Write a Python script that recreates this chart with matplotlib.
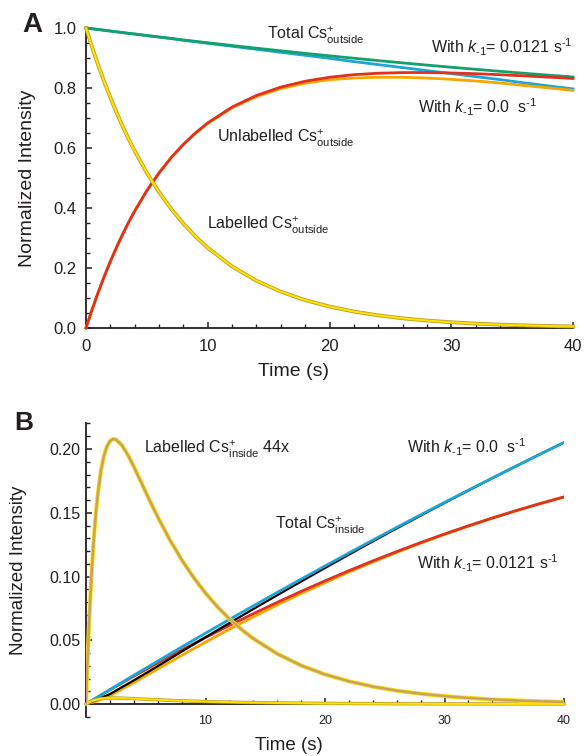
import matplotlib
matplotlib.use("Agg")
import matplotlib.pyplot as plt
from matplotlib.ticker import MultipleLocator, FixedLocator

plt.rcParams['font.family'] = ['Liberation Sans', 'DejaVu Sans']
plt.rcParams['mathtext.fontset'] = 'custom'
plt.rcParams['mathtext.rm'] = 'Liberation Sans'
plt.rcParams['mathtext.it'] = 'Liberation Sans:italic'
plt.rcParams['mathtext.bf'] = 'Liberation Sans:bold'

# ---------------- Panel A data ----------------
tA = [0, 0.5, 1, 1.5, 2, 2.5, 3, 3.5, 4, 5, 6, 7, 8, 9, 10, 12, 14, 16, 18, 20, 22, 24, 26, 28,
      30, 32, 34, 36, 38, 40]
total_out_k0121 = [1.000, 0.9974, 0.9948, 0.9923, 0.9897, 0.9872, 0.9846, 0.9821, 0.9797, 0.9747,
                   0.9698, 0.9650, 0.9602, 0.9555, 0.9508, 0.9416, 0.9327, 0.9240, 0.9155, 0.9072,
                   0.8992, 0.8913, 0.8837, 0.8764, 0.8692, 0.8623, 0.8556, 0.8491, 0.8428, 0.8368]
total_out_k0 = [1.000, 0.9975, 0.995, 0.9924, 0.990, 0.9873, 0.985, 0.9823, 0.980, 0.975,
                0.970, 0.965, 0.959, 0.954, 0.949, 0.939, 0.929, 0.919, 0.909, 0.899,
                0.888, 0.878, 0.868, 0.858, 0.848, 0.838, 0.828, 0.817, 0.807, 0.797]
unlab_out_k0121 = [0.000, 0.0613, 0.1185, 0.1719, 0.2217, 0.2683, 0.3116, 0.3521, 0.3899, 0.4578,
                   0.5169, 0.5681, 0.6124, 0.6507, 0.6837, 0.7365, 0.7751, 0.8030, 0.8226, 0.8358,
                   0.8444, 0.8492, 0.8514, 0.8516, 0.8501, 0.8477, 0.8443, 0.8404, 0.8362, 0.8317]
unlab_out_k0 = [0.000, 0.0614, 0.1187, 0.1720, 0.2220, 0.2684, 0.3120, 0.3523, 0.3902, 0.4581,
                0.5171, 0.5681, 0.6112, 0.6492, 0.6819, 0.7339, 0.7714, 0.7980, 0.8161, 0.8276,
                0.8332, 0.8359, 0.8357, 0.8332, 0.8289, 0.8234, 0.8167, 0.8083, 0.8004, 0.7919]
lab_out = [1.000, 0.9361, 0.8763, 0.8204, 0.7680, 0.7189, 0.6730, 0.6300, 0.5898, 0.5169,
           0.4529, 0.3969, 0.3478, 0.3048, 0.2671, 0.2051, 0.1576, 0.1210, 0.0929, 0.0714,
           0.0548, 0.0421, 0.0323, 0.0248, 0.0191, 0.0146, 0.0113, 0.0087, 0.0066, 0.0051]

# ---------------- Panel B data ----------------
tB = [0, 0.1, 0.25, 0.375, 0.5, 0.625, 0.75, 0.875, 1, 1.25, 1.5, 1.75, 2, 2.25, 2.5, 3, 3.5,
      4, 4.5, 5, 5.5, 6, 7, 8, 9, 10, 11, 12, 13, 14, 16, 18, 20, 22, 24, 26, 28, 30, 32, 34,
      36, 38, 40]
lab_in_44x = [0, 0.02673, 0.06149, 0.08615, 0.10738, 0.12561, 0.14119, 0.15445, 0.16566, 0.18290,
              0.19458, 0.20199, 0.20611, 0.20773, 0.20748, 0.20305, 0.19542, 0.18618, 0.17626,
              0.16619, 0.15630, 0.14676, 0.12902, 0.11322, 0.09927, 0.08703, 0.07627, 0.06684,
              0.05857, 0.05133, 0.03942, 0.03027, 0.02325, 0.01785, 0.01371, 0.01053, 0.00809,
              0.00621, 0.00477, 0.00366, 0.00281, 0.00216, 0.00166]
lab_in = [0, 0.00061, 0.00140, 0.00196, 0.00244, 0.00285, 0.00321, 0.00351, 0.00377, 0.00416,
          0.00442, 0.00459, 0.00468, 0.00472, 0.00472, 0.00461, 0.00444, 0.00423, 0.00401,
          0.00378, 0.00355, 0.00334, 0.00293, 0.00257, 0.00226, 0.00198, 0.00173, 0.00152,
          0.00133, 0.00117, 0.00090, 0.00069, 0.00053, 0.00041, 0.00031, 0.00024, 0.00018,
          0.00014, 0.00011, 0.00008, 0.00006, 0.00005, 0.00004]

tL = [0, 1, 2, 4, 6, 8, 10, 12, 14, 16, 18, 20, 22, 24, 26, 28, 30, 32, 34, 36, 38, 40]
total_in_k0 = [0, 0.00569, 0.01134, 0.02257, 0.03369, 0.04468, 0.05557, 0.06634, 0.07700, 0.08754,
               0.09797, 0.10828, 0.11848, 0.12856, 0.13853, 0.14839, 0.15813, 0.16776, 0.17727,
               0.18667, 0.19595, 0.20512]
total_in_black = [0, 0.00369, 0.00784, 0.01857, 0.02969, 0.04108, 0.05237, 0.06354, 0.07450, 0.08534,
                  0.09607, 0.10668, 0.11718, 0.12756, 0.13773, 0.14779, 0.15773, 0.16746, 0.17707,
                  0.18657, 0.19595, 0.20512]
total_in_k0121 = [0, 0.00556, 0.01105, 0.02178, 0.03221, 0.04234, 0.05215, 0.06166, 0.07085, 0.07974,
                  0.08833, 0.09660, 0.10457, 0.11222, 0.11957, 0.12662, 0.13335, 0.13978, 0.14589,
                  0.15170, 0.15721, 0.16240]
total_in_orange = [0, 0.00256, 0.00655, 0.01678, 0.02751, 0.03814, 0.04855, 0.05866, 0.06835, 0.07774,
                   0.08663, 0.09520, 0.10347, 0.11132, 0.11887, 0.12612, 0.13295, 0.13948, 0.14569,
                   0.15160, 0.15721, 0.16240]

xticksA = [0, 10, 20, 30, 40]
yticksA = [0.0, 0.2, 0.4, 0.6, 0.8, 1.0]
xticksB = [10, 20, 30, 40]
yticksB = [0.00, 0.05, 0.10, 0.15, 0.20]

GREEN = '#13A06A'
BLUE = '#1AA6D6'
RED = '#E2301E'
ORANGE = '#F7A600'
YELLOW = '#FFE200'
OLIVE = '#B79C2C'
TAN = '#C9A263'
TXT = '#231F20'

K_SUB = r'$k_{\text{-1}}$'
S_INV = r's$^{\text{-1}}$'

fig = plt.figure(figsize=(5.84, 7.56), dpi=100)

# ---------------- Panel A ----------------
axA = fig.add_axes([86/584, 1-328/756, 487/584, 300/756])
axA.plot(tA, total_out_k0, color=BLUE, lw=2.0, clip_on=False, zorder=3)
axA.plot(tA, total_out_k0121, color=GREEN, lw=2.0, clip_on=False, zorder=4)
axA.plot(tA, unlab_out_k0, color=ORANGE, lw=2.0, clip_on=False, zorder=3)
axA.plot(tA, unlab_out_k0121, color=RED, lw=2.0, clip_on=False, zorder=4)
axA.plot(tA, lab_out, color=OLIVE, lw=2.7, clip_on=False, zorder=5)
axA.plot(tA, lab_out, color=YELLOW, lw=1.5, clip_on=False, zorder=6)
axA.set_xlim(0, 40)
axA.set_ylim(0, 1.0)
axA.set_xticks(xticksA)
axA.set_yticks(yticksA)
axA.set_yticklabels([f"{v:.1f}" for v in yticksA])
axA.xaxis.set_minor_locator(MultipleLocator(2))
axA.yaxis.set_minor_locator(MultipleLocator(0.05))
for s in ['top', 'right']:
    axA.spines[s].set_visible(False)
for s in ['left', 'bottom']:
    axA.spines[s].set_linewidth(1.3)
    axA.spines[s].set_color(TXT)
axA.tick_params(which='major', direction='in', length=4.5, width=1.1, labelsize=12, colors=TXT)
axA.tick_params(which='minor', direction='in', length=3, width=1.0, colors=TXT)
axA.tick_params(axis='y', which='major', pad=7)
axA.tick_params(axis='x', which='major', pad=8)
axA.set_xlabel('Time (s)', fontsize=14, color=TXT)
axA.xaxis.set_label_coords((294-86)/487, -(371-328)/300)
axA.xaxis.label.set_va('center')
axA.set_ylabel('Normalized Intensity', fontsize=14, color=TXT)
axA.yaxis.set_label_coords((28-86)/487, 0.5)
axA.yaxis.label.set_va('center')

fs = 11.5
axA.text(14.9, 0.96, r'Total Cs$^{+}_{\mathrm{outside}}$', fontsize=fs, color=TXT)
axA.text(28.3, 0.917, 'With ' + K_SUB + '= 0.0121 ' + S_INV, fontsize=fs, color=TXT)
axA.text(27.3, 0.717, 'With ' + K_SUB + '= 0.0  ' + S_INV, fontsize=fs, color=TXT)
axA.text(10.8, 0.617, r'Unlabelled Cs$^{+}_{\mathrm{outside}}$', fontsize=fs, color=TXT)
axA.text(9.95, 0.327, r'Labelled Cs$^{+}_{\mathrm{outside}}$', fontsize=fs, color=TXT)
fig.text(22/584, 1-25/756, 'A', fontsize=20, fontweight='bold', color=TXT, va='center', ha='left')

# ---------------- Panel B ----------------
axB = fig.add_axes([86/584, 1-716.8/756, 478/584, 293.3/756])
axB.plot(tL, total_in_orange, color=ORANGE, lw=2.0, zorder=3)
axB.plot(tL, total_in_k0121, color=RED, lw=2.0, zorder=4)
axB.plot(tL, total_in_black, color='black', lw=1.6, zorder=4)
axB.plot(tL, total_in_k0, color=BLUE, lw=2.0, zorder=5)
axB.plot(tB, lab_in, color=OLIVE, lw=2.4, zorder=6, clip_on=False)
axB.plot(tB, lab_in, color=YELLOW, lw=1.4, zorder=7, clip_on=False)
axB.plot(tB, lab_in_44x, color=YELLOW, lw=3.0, zorder=6)
axB.plot(tB, lab_in_44x, color=TAN, lw=1.8, zorder=7)
axB.set_xlim(0, 40)
axB.set_ylim(-0.01, 0.22)
axB.spines['bottom'].set_position(('data', 0))
for s in ['top', 'right']:
    axB.spines[s].set_visible(False)
for s in ['left', 'bottom']:
    axB.spines[s].set_linewidth(1.3)
    axB.spines[s].set_color(TXT)
axB.xaxis.set_major_locator(FixedLocator([0] + xticksB))
axB.set_xticklabels([''] + [str(v) for v in xticksB])
axB.xaxis.set_minor_locator(MultipleLocator(2))
axB.set_yticks(yticksB)
axB.set_yticklabels([f"{v:.2f}" for v in yticksB])
axB.yaxis.set_minor_locator(MultipleLocator(0.01))
axB.tick_params(which='major', direction='in', length=4.5, width=1.1, colors=TXT)
axB.tick_params(which='minor', direction='in', length=3, width=1.0, colors=TXT)
axB.tick_params(axis='y', which='major', labelsize=11.5, pad=4)
axB.tick_params(axis='x', which='major', labelsize=9, pad=8)
axB.set_xlabel('Time (s)', fontsize=13.5, color=TXT)
axB.xaxis.set_label_coords((289-86)/478, -(745-716.8)/293.3)
axB.xaxis.label.set_va('center')
axB.set_ylabel('Normalized Intensity', fontsize=13.5, color=TXT)
axB.yaxis.set_label_coords((18.5-86)/478, 0.5)
axB.yaxis.label.set_va('center')

axB.text(4.85, 0.1963, r'Labelled Cs$^{+}_{\mathrm{inside}}$ 44x', fontsize=fs, color=TXT)
axB.text(15.8, 0.1367, r'Total Cs$^{+}_{\mathrm{inside}}$', fontsize=fs, color=TXT)
axB.text(26.9, 0.197, 'With ' + K_SUB + '= 0.0  ' + S_INV, fontsize=fs, color=TXT)
axB.text(27.7, 0.106, 'With ' + K_SUB + '= 0.0121 ' + S_INV, fontsize=fs, color=TXT)
fig.text(14/584, 1-423/756, 'B', fontsize=19, fontweight='bold', color=TXT, va='center', ha='left')

fig.savefig('out.png', dpi=100)
